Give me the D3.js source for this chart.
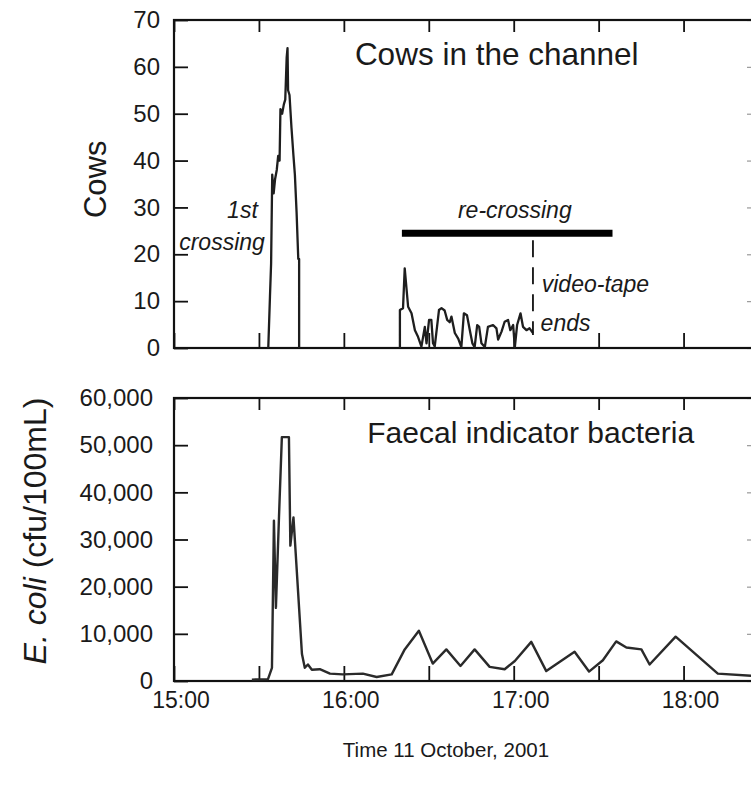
<!DOCTYPE html>
<html>
<head>
<meta charset="utf-8">
<script src="https://cdn.jsdelivr.net/npm/d3@7"></script>
<style>
  html, body { margin: 0; padding: 0; background: #fff; }
  svg { display: block; }
  text { font-family: "Liberation Sans", Arial, sans-serif; fill: #1a1a1a; }
</style>
</head>
<body>
<svg id="chart" width="751" height="787"></svg>
<script>
// ---- DATA (time in minutes after 15:00, 11 October 2001) ----
const xTickMinutes = [0, 30, 60, 90, 120, 150, 180];
const xTickLabels = ["15:00", "16:00", "17:00", "18:00"];
const xLabelMinutes = [0, 60, 120, 180];
const cowTicks = [0, 10, 20, 30, 40, 50, 60, 70];
const ecoliTicks = [0, 10000, 20000, 30000, 40000, 50000, 60000];

// first crossing
const cowTime1  = [33.3, 33.9, 34.3, 34.7, 35.2, 35.7, 36.3, 36.8, 37.3, 37.6, 38.2, 38.8, 39.3, 39.8, 40.1, 40.3, 40.8, 41.5, 42.2, 42.7, 43.3, 43.9, 44.2, 44.2];
const cowCount1 = [0, 11, 18, 37, 33, 36, 38, 41, 40, 51, 50, 52, 53, 62, 64, 55, 54, 47, 41, 37, 29, 19, 19, 0];

// re-crossing
const cowTime2  = [79.8, 79.8, 80.9, 81.5, 82.7, 83.9, 85.1, 86.2, 87.4, 88.6, 89.2, 90.1, 90.9, 91.5, 92.1, 93.6, 94.5, 95.6, 96.5, 97.4, 98.0, 99.2, 100.4, 101.5, 102.4, 103.5, 104.5, 105.4, 106.2, 107.1, 107.8, 108.6, 109.8, 110.9, 112.7, 113.9, 114.5, 115.7, 116.8, 118.0, 118.8, 119.8, 120.4, 121.2, 122.4, 123.3, 124.5, 125.6, 126.8];
const cowCount2 = [0, 8.1, 8.5, 17, 8.8, 7.4, 3.8, 2.4, 0.3, 4.5, 1, 6, 6, 1, 0.3, 8.1, 8.5, 8, 6, 5.5, 6.7, 3.2, 2, 0.2, 7.4, 7, 3.8, 1, 0.2, 4.9, 4.5, 1, 0.2, 4.5, 4.9, 4.2, 1.8, 3.5, 5.6, 6, 3.8, 4.9, 0.2, 4.9, 7.4, 4.5, 3.8, 4.2, 3.2];

// E. coli (cfu/100mL)
const ecoliTime  = [27.5, 33.2, 34.6, 35.3, 36.0, 37.1, 38.1, 40.6, 41.1, 42.2, 43.1, 45.2, 46.2, 47.3, 48.7, 51.5, 55.1, 59.6, 66.7, 71.6, 76.9, 81.5, 86.5, 91.4, 96.2, 101.2, 106.2, 111.5, 116.8, 120.4, 126.2, 131.5, 141.5, 146.6, 151.5, 156.2, 159.8, 165.1, 168.0, 177.2, 192.1, 207];
const ecoliCount = [300, 400, 2800, 34000, 15500, 35000, 51700, 51700, 28700, 34700, 26000, 5700, 2800, 3500, 2400, 2500, 1560, 1400, 1560, 850, 1400, 6700, 10640, 3700, 6700, 3200, 6700, 3000, 2500, 4250, 8300, 2100, 6200, 2000, 4400, 8400, 7100, 6700, 3500, 9400, 1560, 1000];

// annotations
const recrossStart = 80.5, recrossEnd = 154.9, recrossLevel = 24.5;
const videoEnd = 126.8, videoLineTop = 23, videoLineBottom = 2.8;

// ---- SCALES ----
const svg = d3.select("#chart");
const x = d3.scaleLinear().domain([0, 207]).range([174, 760]);
const yCow = d3.scaleLinear().domain([0, 70]).range([348, 20]);
const yEc = d3.scaleLinear().domain([0, 60000]).range([681, 398]);

const lineCol = "#1e1e1e";

function frame(y) {
  const [b, t] = y.range();
  svg.append("rect").attr("x", x.range()[0]).attr("y", t)
    .attr("width", x.range()[1] - x.range()[0]).attr("height", b - t)
    .attr("fill", "none").attr("stroke", "#111").attr("stroke-width", 2.2);
}

function axes(y, ticks, fmt, pad) {
  const [b, t] = y.range();
  svg.append("g").attr("transform", `translate(0,${b})`)
    .call(d3.axisBottom(x).tickValues(xTickMinutes).tickSize(-15).tickFormat(""))
    .call(g => g.select(".domain").remove())
    .call(g => g.selectAll("line").attr("stroke", "#111").attr("stroke-width", 1.8));
  svg.append("g").attr("transform", `translate(0,${t})`)
    .call(d3.axisTop(x).tickValues(xTickMinutes).tickSize(-12).tickFormat(""))
    .call(g => g.select(".domain").remove())
    .call(g => g.selectAll("line").attr("stroke", "#111").attr("stroke-width", 1.8));
  svg.append("g").attr("transform", `translate(${x.range()[0]},0)`)
    .call(d3.axisLeft(y).tickValues(ticks).tickSize(-14).tickPadding(pad).tickFormat(fmt))
    .call(g => g.select(".domain").remove())
    .call(g => g.selectAll("line").attr("stroke", "#111").attr("stroke-width", 1.8))
    .call(g => g.selectAll("text").attr("font-size", 24).attr("font-family", "Liberation Sans, Arial, sans-serif").attr("fill", "#1a1a1a"));
  svg.append("g").attr("transform", `translate(${x.range()[1]},0)`)
    .call(d3.axisRight(y).tickValues(ticks).tickSize(-13).tickFormat(""))
    .call(g => g.select(".domain").remove())
    .call(g => g.selectAll("line").attr("stroke", "#999").attr("stroke-width", 1.2));
}

// ---- TOP PANEL: cows ----
axes(yCow, cowTicks, d3.format("d"), 14);
frame(yCow);

const cowLine = d3.line().x(d => x(d[0])).y(d => yCow(d[1]));
svg.append("path").datum(d3.zip(cowTime1, cowCount1)).attr("d", cowLine)
  .attr("fill", "none").attr("stroke", lineCol).attr("stroke-width", 2.3).attr("stroke-linejoin", "round");
svg.append("path").datum(d3.zip(cowTime2, cowCount2)).attr("d", cowLine)
  .attr("fill", "none").attr("stroke", lineCol).attr("stroke-width", 2.3).attr("stroke-linejoin", "round");

svg.append("line").attr("x1", x(recrossStart)).attr("x2", x(recrossEnd))
  .attr("y1", yCow(recrossLevel)).attr("y2", yCow(recrossLevel))
  .attr("stroke", "#000").attr("stroke-width", 7);
svg.append("line").attr("x1", x(videoEnd)).attr("x2", x(videoEnd))
  .attr("y1", yCow(videoLineTop)).attr("y2", yCow(videoLineBottom))
  .attr("stroke", "#111").attr("stroke-width", 1.8).attr("stroke-dasharray", "17,10");

svg.append("text").attr("x", x(114)).attr("y", yCow(60.4)).attr("text-anchor", "middle")
  .attr("font-size", 31.5).text("Cows in the channel");

const ital = (t, xm, v, anchor) => svg.append("text").attr("x", x(xm)).attr("y", yCow(v))
  .attr("text-anchor", anchor).attr("font-size", 23).attr("font-style", "italic").text(t);
ital("1st", 29.6, 27.7, "end");
ital("crossing", 32.1, 20.9, "end");
ital("re-crossing", 120.4, 27.7, "middle");
ital("video-tape", 129.9, 12, "start");
ital("ends", 129.5, 3.6, "start");

svg.append("text").attr("transform", `translate(106,${yCow(36)}) rotate(-90)`)
  .attr("text-anchor", "middle").attr("font-size", 31).text("Cows");

// ---- BOTTOM PANEL: E. coli ----
axes(yEc, ecoliTicks, d3.format(","), 21);
frame(yEc);

const ecLine = d3.line().x(d => x(d[0])).y(d => yEc(d[1]));
svg.append("path").datum(d3.zip(ecoliTime, ecoliCount)).attr("d", ecLine)
  .attr("fill", "none").attr("stroke", "#2a2a2a").attr("stroke-width", 2.4).attr("stroke-linejoin", "round");

svg.append("text").attr("x", x(126)).attr("y", yEc(50400)).attr("text-anchor", "middle")
  .attr("font-size", 30).text("Faecal indicator bacteria");

svg.append("g").selectAll("text").data(xLabelMinutes).join("text")
  .attr("x", d => x(d) + 7).attr("y", 708).attr("text-anchor", "middle")
  .attr("font-size", 23).text((d, i) => xTickLabels[i]);

svg.append("text").attr("x", 446).attr("y", 757).attr("text-anchor", "middle")
  .attr("font-size", 20.5).text("Time 11 October, 2001");

const ecLab = svg.append("text").attr("transform", `translate(46,531) rotate(-90)`)
  .attr("text-anchor", "middle").attr("font-size", 32);
ecLab.append("tspan").attr("font-style", "italic").text("E. coli");
ecLab.append("tspan").text(" (cfu/100mL)");
</script>
</body>
</html>
